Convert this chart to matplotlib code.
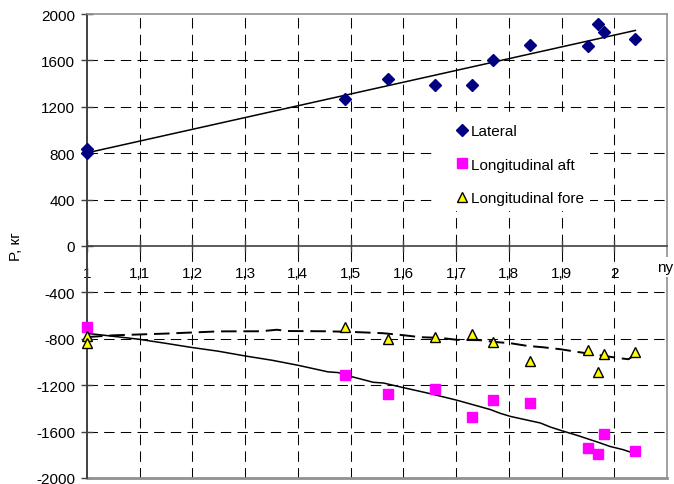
import numpy as np
import matplotlib.pyplot as plt

plt.rcParams['font.family'] = ['Liberation Sans', 'DejaVu Sans']

# --- Measured points ---
lat_ny = [1.0, 1.0, 1.49, 1.57, 1.66, 1.73, 1.77, 1.84, 1.95, 1.97, 1.98, 2.04]
lat_p = [840, 800, 1270, 1443, 1391, 1391, 1607, 1737, 1728, 1910, 1849, 1788]

aft_ny = [1.0, 1.49, 1.57, 1.66, 1.73, 1.77, 1.84, 1.95, 1.97, 1.98, 2.04]
aft_p = [-700, -1114, -1279, -1235, -1477, -1330, -1356, -1745, -1797, -1624, -1771]

fore_ny = [1.0, 1.0, 1.49, 1.57, 1.66, 1.73, 1.77, 1.84, 1.95, 1.97, 1.98, 2.04]
fore_p = [-780, -840, -700, -803, -786, -760, -829, -994, -898, -1089, -933, -916]

# --- Calculated curves ---
aft_curve_ny = [1.0, 1.02, 1.097, 1.148, 1.199, 1.249, 1.30, 1.351, 1.40, 1.457,
                1.476, 1.499, 1.543, 1.562, 1.60, 1.651, 1.702, 1.765, 1.784,
                1.803, 1.86, 1.879, 1.903, 1.93, 1.968, 1.992, 2.017, 2.04]
aft_curve_p = [-754, -763, -803, -838, -875, -907, -948, -985, -1028, -1085,
               -1091, -1123, -1175, -1181, -1221, -1273, -1330, -1410, -1443,
               -1469, -1526, -1561, -1596, -1633, -1690, -1728, -1756, -1791]

fore_curve_ny = [1.0, 1.05, 1.15, 1.25, 1.33, 1.36, 1.38, 1.45, 1.499, 1.562,
                 1.60, 1.632, 1.67, 1.702, 1.746, 1.778, 1.803, 1.835, 1.865,
                 1.898, 1.93, 1.96, 1.998, 2.011, 2.027, 2.035]
fore_curve_p = [-785, -770, -755, -736, -735, -722, -733, -735, -740, -752,
                -769, -786, -792, -809, -812, -829, -838, -861, -873,
                -890, -913, -933, -959, -968, -976, -950]

x_ticks = [1.0, 1.1, 1.2, 1.3, 1.4, 1.5, 1.6, 1.7, 1.8, 1.9, 2.0]
y_ticks = [-2000, -1600, -1200, -800, -400, 0, 400, 800, 1200, 1600, 2000]

fig = plt.figure(figsize=(6.74, 4.85), dpi=100)
ax = fig.add_axes([87 / 674, 1 - 479 / 485, 580 / 674, 464 / 485])

ax.set_xlim(1.0, 2.1)
ax.set_ylim(-2000, 2000)

# dashed grid
grid_kw = dict(color='black', lw=0.75, linestyle=(0, (10, 6)), zorder=1)
for xv in x_ticks[1:]:
    ax.axvline(xv, **grid_kw)
for yv in y_ticks[1:-1]:
    if yv != 0:
        ax.axhline(yv, **grid_kw)

# linear trend for the lateral load
k, b = np.polyfit(lat_ny, lat_p, 1)
xs = np.array([min(lat_ny), max(lat_ny)])
ax.plot(xs, k * xs + b, color='black', lw=1.1, zorder=3)

ax.plot(aft_curve_ny, aft_curve_p, color='black', lw=1.1, zorder=3)
ax.plot(fore_curve_ny, fore_curve_p, color='black', lw=1.4,
        linestyle=(0, (8, 3.5)), zorder=3)

ax.plot(lat_ny, lat_p, 'D', color='#000080', ms=6.5, mec='#000080',
        ls='none', label='Lateral', zorder=4, clip_on=False)
ax.plot(aft_ny, aft_p, 's', color='#FF00FF', ms=6.5, mec='#FF00FF',
        ls='none', label='Longitudinal aft', zorder=4, clip_on=False)
ax.plot(fore_ny, fore_p, '^', color='#FFFF00', ms=7.5, mec='black', mew=1.0,
        ls='none', label='Longitudinal fore', zorder=5, clip_on=False)

# axes frame: x axis through zero, grey outer box
for side in ['top', 'right']:
    ax.spines[side].set_color('#909090')
    ax.spines[side].set_linewidth(1.2)
ax.spines['left'].set_color('#404040')
ax.spines['left'].set_linewidth(1.4)
ax.spines['bottom'].set_position(('data', 0))
ax.spines['bottom'].set_color('#404040')
ax.spines['bottom'].set_linewidth(1.2)
ax.axhline(-2000, color='#909090', lw=2.0, clip_on=False, zorder=2)

ax.set_xticks(x_ticks)
ax.set_xticklabels([f'{v:g}'.replace('.', ',') for v in x_ticks])
ax.set_yticks(y_ticks)
ax.set_yticklabels([str(v) for v in y_ticks])
ax.tick_params(axis='both', direction='inout', length=9, width=1.0,
               color='#404040', labelsize=11)
ax.tick_params(axis='x', pad=10)
ax.tick_params(axis='y', pad=4)

ax.set_ylabel('P, кг', fontsize=11)
ax.yaxis.set_label_coords((23 - 87) / 580, 0.5)

fig.text(673 / 674, 1 - 268 / 485, 'ny', ha='right', va='center', fontsize=11,
         bbox=dict(facecolor='white', edgecolor='none', pad=2))

leg = ax.legend(loc='upper left', bbox_to_anchor=((436 - 87) / 580, (479 - 119) / 464),
                frameon=True, fancybox=False, edgecolor='none', facecolor='white',
                framealpha=1.0, fontsize=11, handlelength=2.6, handletextpad=-0.7,
                borderpad=0.4, labelspacing=1.27, borderaxespad=0)
leg.set_zorder(6)

fig.savefig('out.png', dpi=100)
